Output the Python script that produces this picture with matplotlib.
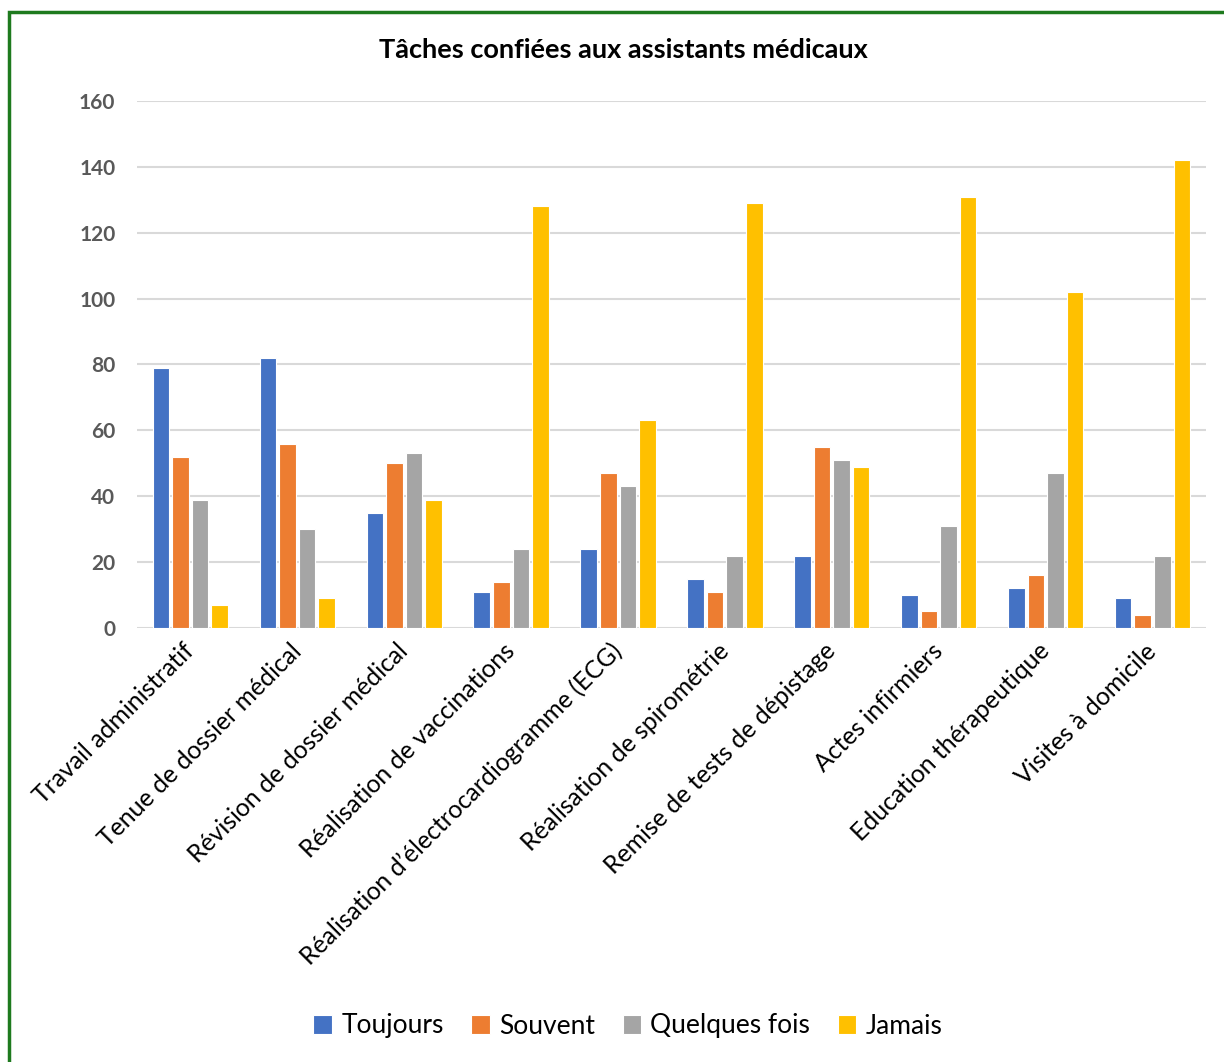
import numpy as np
import matplotlib.pyplot as plt
from matplotlib.patches import Rectangle

plt.rcParams['font.family'] = ['Lato', 'DejaVu Sans']

# Tâches et fréquences de délégation
taches = ["Travail administratif", "Tenue de dossier médical",
          "Révision de dossier médical", "Réalisation de vaccinations",
          "Réalisation d\u2019électrocardiogramme (ECG)", "Réalisation de spirométrie",
          "Remise de tests de dépistage", "Actes infirmiers",
          "Education thérapeutique", "Visites à domicile"]
toujours = [79, 82, 35, 11, 24, 15, 22, 10, 12, 9]
souvent = [52, 56, 50, 14, 47, 11, 55, 5, 16, 4]
quelques_fois = [39, 30, 53, 24, 43, 22, 51, 31, 47, 22]
jamais = [7, 9, 39, 128, 63, 129, 49, 131, 102, 142]

series = [("Toujours", toujours, "#4472C4"),
          ("Souvent", souvent, "#ED7D31"),
          ("Quelques fois", quelques_fois, "#A5A5A5"),
          ("Jamais", jamais, "#FFC000")]

fig = plt.figure(figsize=(12.24, 10.62), dpi=100)
ax = fig.add_axes([0.1119, 0.4087, 0.8734, 0.4962])

x = np.arange(len(taches))
step = 0.183
largeur = 0.155
for i, (nom, vals, couleur) in enumerate(series):
    ax.bar(x + (i - 1.5) * step, vals, width=largeur, color=couleur,
           edgecolor="white", linewidth=0.8, label=nom, zorder=3)

ax.set_xlim(-0.5, len(taches) - 0.5)
ax.set_ylim(0, 160)
ax.set_yticks(range(0, 161, 20))
ax.yaxis.grid(True, color="#D9D9D9", linewidth=1.5, zorder=0)
for s in ax.spines.values():
    s.set_visible(False)
ax.tick_params(axis="both", length=0)
ax.tick_params(axis="y", pad=15.5, labelsize=15, labelcolor="#595959")
for lab in ax.get_yticklabels():
    lab.set_fontweight("bold")

ax.set_xticks(x)
ax.set_xticklabels(taches, rotation=45, ha="right", va="center",
                   rotation_mode="anchor", fontsize=17.8)
ax.tick_params(axis="x", pad=14)

fig.text(623 / 1224, 1 - 50 / 1062, "Tâches confiées aux assistants médicaux",
         ha="center", va="center", fontsize=19.5, fontweight="bold")

fig.legend(loc="center", bbox_to_anchor=(628 / 1224, 1 - 1026 / 1062), ncol=4,
           frameon=False, fontsize=19, handlelength=0.7, handleheight=0.7,
           handletextpad=0.35, columnspacing=1.05)

# cadre vert autour du graphique
fig.patches.append(Rectangle((9 / 1224, -0.05), 1.1, 1 - 12 / 1062 + 0.05,
                             transform=fig.transFigure, fill=False,
                             edgecolor="#1E7A1E", linewidth=2.5))

fig.savefig("out.png", dpi=100)
